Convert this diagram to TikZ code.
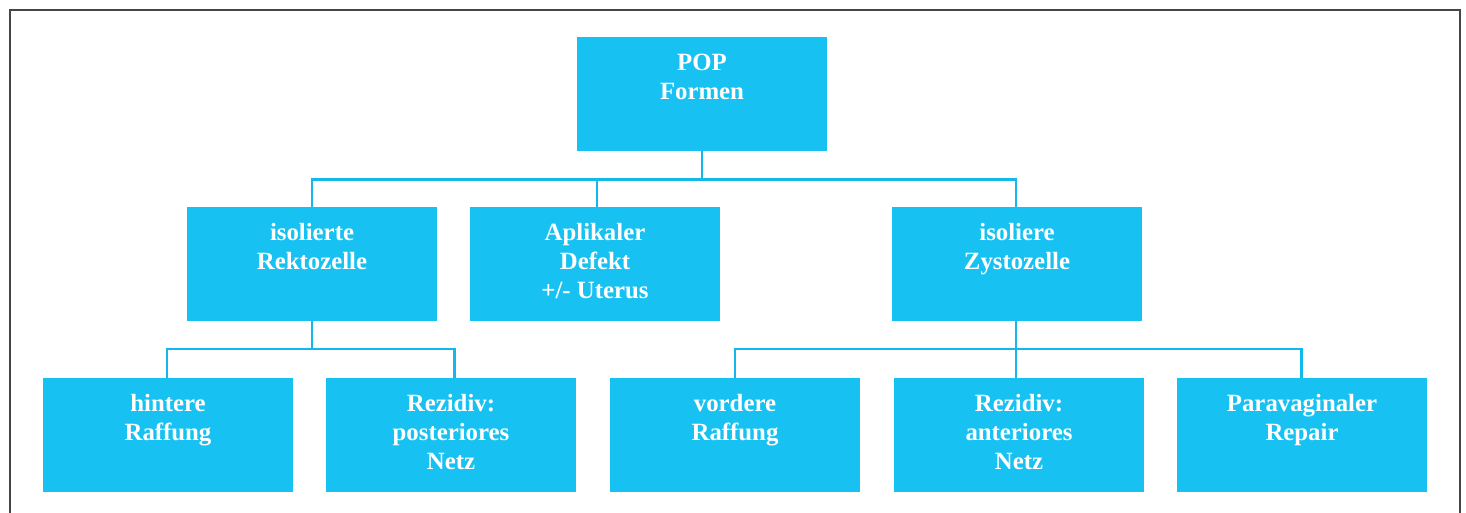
\documentclass[tikz,border=0pt]{standalone}
\usepackage{fontspec}
\setmainfont{Liberation Serif}
\definecolor{boxcyan}{RGB}{23,194,242}
\definecolor{linecyan}{RGB}{18,183,236}
\definecolor{framegray}{RGB}{70,70,70}
\newcommand{\boxtxt}[1]{\parbox[c][114pt][t]{250pt}{\centering\fontsize{24.8}{29}\selectfont\bfseries\color{white}\rule{0pt}{33.5pt}#1}}
\begin{document}
\begin{tikzpicture}[x=1pt,y=-1pt,
  box/.style={fill=boxcyan, inner sep=0pt, minimum width=250pt, minimum height=114pt},
  conn/.style={draw=linecyan, line width=2.4pt},
  frame/.style={draw=framegray, line width=1.6pt}]
\useasboundingbox (0,0) rectangle (1466,512);
\draw[frame] (10,520) -- (10,10) -- (1460,10) -- (1460,520);

\node[box] (pop) at (702,94) {\boxtxt{POP\\Formen}};
\node[box] (rek) at (312,264) {\boxtxt{isolierte\\Rektozelle}};
\node[box] (apl) at (595,264) {\boxtxt{Aplikaler\\Defekt\\+/- Uterus}};
\node[box] (zys) at (1017,264) {\boxtxt{isoliere\\Zystozelle}};
\node[box] (hr) at (168,435) {\boxtxt{hintere\\Raffung}};
\node[box] (rp) at (451,435) {\boxtxt{Rezidiv:\\posteriores\\Netz}};
\node[box] (vr) at (735,435) {\boxtxt{vordere\\Raffung}};
\node[box] (ra) at (1019,435) {\boxtxt{Rezidiv:\\anteriores\\Netz}};
\node[box] (pr) at (1302,435) {\boxtxt{Paravaginaler\\Repair}};

\coordinate (b1) at (702,179.5);
\coordinate (b2) at (312,349);
\coordinate (b3) at (1016,349);

\draw[conn] (pop.south) -- (b1);
\draw[conn] (rek.north) |- (b1) -| ([xshift=-1pt]zys.north);
\draw[conn] ([xshift=2pt]apl.north) -- ([xshift=2pt]apl.north |- b1);

\draw[conn] (rek.south) -- (b2);
\draw[conn] ([xshift=-1pt]hr.north) |- (b2) -| ([xshift=3.5pt]rp.north);

\draw[conn] ([xshift=-1pt]zys.south) -- (b3);
\draw[conn] (vr.north) |- (b3) -| ([xshift=-0.5pt]pr.north);
\draw[conn] ([xshift=-3pt]ra.north) -- (b3);
\end{tikzpicture}
\end{document}
